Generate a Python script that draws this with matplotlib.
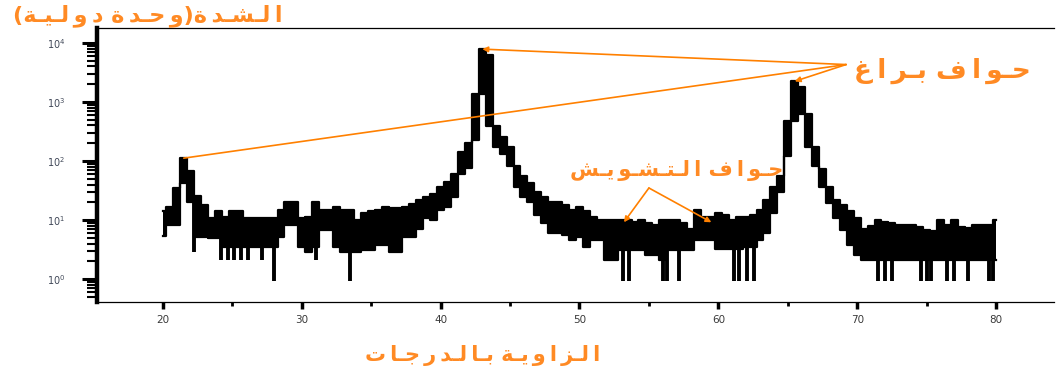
import numpy as np
import matplotlib
matplotlib.use("Agg")
import matplotlib.pyplot as plt
from matplotlib.ticker import LogLocator, MultipleLocator

# XRD scan, 0.5 degree bins: upper and lower envelope of the recorded counts
two_theta = np.arange(20.0, 80.01, 0.5)
counts_hi = [
    14, 17, 35, 112, 67, 26, 18, 11, 14, 11.5,
    14, 14, 11, 11, 11, 11, 11, 15, 20, 20,
    11, 11.5, 20, 15, 15, 17, 15, 15, 10, 13,
    14, 15, 17, 16, 16, 17, 19, 22, 25, 28,
    37, 45, 60, 140, 200, 1380, 7850, 6160, 395, 253,
    174, 82, 55, 42, 30, 25, 20, 20, 18, 15,
    17, 14, 11.5, 10.2, 10.2, 10.2, 10, 10, 9.4, 10,
    9, 8.4, 10, 10, 10, 9, 7, 15, 11.5, 11.5,
    13, 12, 10.2, 11.5, 11.5, 12, 15, 22, 36, 55,
    475, 2240, 1820, 617, 174, 73, 37, 22, 18, 14,
    11, 7, 8, 10, 9.4, 9, 8.4, 8.4, 8.4, 7.7,
    6.9, 6.5, 10, 8.4, 10, 7.7, 7.5, 8.4, 8.4, 8.4,
    10,
]
counts_lo = [
    5.4, 8.4, 8.4, 42, 20, 5.2, 5.2, 5.0, 5.0, 3.5,
    3.5, 3.5, 3.5, 3.5, 3.5, 3.5, 3.5, 5.2, 8.4, 8.4,
    3.5, 2.9, 3.5, 6.9, 6.9, 3.5, 2.9, 2.9, 2.9, 3.1,
    3.1, 3.8, 3.8, 2.9, 2.9, 5.2, 5.2, 7, 11, 10,
    15, 17, 25, 60, 75, 226, 1380, 395, 174, 130,
    82, 37, 25, 20, 12, 9, 6.1, 6.1, 5.5, 4.6,
    5.2, 3.5, 4.6, 4.6, 2.1, 2.1, 3.1, 3.1, 3.1, 3.1,
    2.6, 2.6, 2.1, 3.1, 3.1, 3.1, 3.1, 4.6, 4.6, 4.6,
    3.3, 3.3, 3.3, 3.3, 3.5, 3.5, 4.6, 6.1, 13, 30,
    120, 475, 617, 174, 82, 37, 19.5, 11, 6.9, 3.8,
    2.6, 2.1, 2.1, 2.1, 2.1, 2.1, 2.1, 2.1, 2.1, 2.1,
    2.1, 2.1, 2.1, 2.1, 2.1, 2.1, 2.1, 2.1, 2.1, 2.1,
    2.1,
]
# single low-count channels that drop below the band
dip_theta = [22.2, 24.2, 24.7, 25.1, 25.6, 26.1, 27.1, 28.0, 31.0, 33.5,
             53.1, 53.6, 56.0, 56.3, 57.2, 61.1, 61.5, 62.1, 62.6,
             71.5, 72.0, 72.5, 74.6, 75.0, 75.3, 76.5, 77.0, 78.0, 79.5, 79.8]
dip_counts = [2.9, 2.1, 2.1, 2.1, 2.1, 2.1, 2.1, 0.95, 2.1, 0.95,
              0.95, 0.95, 0.95, 0.95, 0.95, 0.95, 0.95, 0.95, 0.95,
              0.95, 0.95, 0.95, 0.95, 0.95, 0.95, 0.95, 0.95, 0.95, 0.95, 0.95]

# peaks picked out by the annotations
bragg_peaks = [(21.5, 112), (43.0, 7850), (65.5, 2240)]

# Arabic presentation forms (isolated, final, initial, medial)
FORMS = {
    'ا': ('\uFE8D', '\uFE8E', None, None),
    'ب': ('\uFE8F', '\uFE90', '\uFE91', '\uFE92'),
    'ة': ('\uFE93', '\uFE94', None, None),
    'ت': ('\uFE95', '\uFE96', '\uFE97', '\uFE98'),
    'ج': ('\uFE9D', '\uFE9E', '\uFE9F', '\uFEA0'),
    'ح': ('\uFEA1', '\uFEA2', '\uFEA3', '\uFEA4'),
    'د': ('\uFEA9', '\uFEAA', None, None),
    'ر': ('\uFEAD', '\uFEAE', None, None),
    'ز': ('\uFEAF', '\uFEB0', None, None),
    'ش': ('\uFEB5', '\uFEB6', '\uFEB7', '\uFEB8'),
    'غ': ('\uFECD', '\uFECE', '\uFECF', '\uFED0'),
    'ف': ('\uFED1', '\uFED2', '\uFED3', '\uFED4'),
    'ل': ('\uFEDD', '\uFEDE', '\uFEDF', '\uFEE0'),
    'و': ('\uFEED', '\uFEEE', None, None),
    'ي': ('\uFEF1', '\uFEF2', '\uFEF3', '\uFEF4'),
}


def arabic(text, spread=0):
    # matplotlib has no text shaping, so join letters by hand and lay out right-to-left;
    # spread > 0 stretches the word with kashida / thin spaces between letters
    out = []
    for i, ch in enumerate(text):
        if ch not in FORMS:
            out.append(ch)
            continue
        iso, fin, ini, med = FORMS[ch]
        prev = text[i - 1] if i > 0 else ''
        nxt = text[i + 1] if i + 1 < len(text) else ''
        joins_prev = prev in FORMS and FORMS[prev][2] is not None
        joins_next = ini is not None and nxt in FORMS
        if joins_prev and joins_next:
            out.append(med)
        elif joins_prev:
            out.append(fin)
        elif joins_next:
            out.append(ini)
        else:
            out.append(iso)
        if spread and nxt in FORMS:
            out.append('\u0640' * spread if joins_next else '\u2009' * spread)
    return ''.join(reversed(out)).translate(str.maketrans('()', ')('))


plt.rcParams['font.family'] = ['DejaVu Sans']
orange_txt = '#ff8a24'
orange_ln = '#ff8000'

fig = plt.figure(figsize=(10.59, 3.72), dpi=100)
ax = fig.add_axes([0.0916, 0.188, 0.904, 0.737])

hi = np.array(counts_hi)
lo = np.array(counts_lo)
ax.fill_between(two_theta, lo, hi, step='mid', color='black', lw=0)
ax.step(two_theta, hi, where='mid', color='black', lw=1.6)
ax.step(two_theta, lo, where='mid', color='black', lw=1.6)
idx = np.rint((np.array(dip_theta) - two_theta[0]) / 0.5).astype(int)
ax.vlines(dip_theta, dip_counts, lo[idx], color='black', lw=2.8)

ax.set_yscale('log')
ax.set_xlim(15.25, 84.2)
ax.set_ylim(0.41, 17950)

ax.xaxis.set_major_locator(MultipleLocator(10))
ax.xaxis.set_minor_locator(MultipleLocator(5))
ax.yaxis.set_major_locator(LogLocator(base=10, numticks=10))
ax.yaxis.set_minor_locator(LogLocator(base=10, subs=np.arange(2, 10), numticks=20))

ax.spines['right'].set_visible(False)
ax.spines['left'].set_linewidth(3.2)
ax.spines['top'].set_linewidth(0.9)
ax.spines['bottom'].set_linewidth(0.9)
ax.tick_params(axis='y', which='major', direction='out', length=11, width=2.2, pad=12,
               labelsize=7, labelcolor='#404858')
ax.tick_params(axis='y', which='minor', direction='out', length=7, width=1.5)
ax.tick_params(axis='x', which='major', direction='out', length=5, width=2.5, pad=4,
               labelsize=7.5, labelcolor='#3a3a3a')
ax.tick_params(axis='x', which='minor', direction='out', length=3, width=2)

# axis titles
fig.text(0.012, 0.958, arabic('الشدة(وحدة دولية)', spread=1), color=orange_txt,
         fontsize=16, fontweight='bold', ha='left', va='center')
fig.text(0.456, 0.045, arabic('الزاوية بالدرجات', spread=1), color=orange_txt,
         fontsize=15, fontweight='bold', ha='center', va='center')

# Bragg peak labels
ax.text(69.8, 3300, arabic('حواف براغ', spread=1), color=orange_txt, fontsize=19,
        fontweight='bold', ha='left', va='center')
for (tt, cc), head in zip(bragg_peaks, ['-', '-|>', '-|>']):
    ax.annotate('', xy=(tt, cc), xytext=(69.2, 4300),
                arrowprops=dict(arrowstyle=head, color=orange_ln, lw=1.2,
                                mutation_scale=8, shrinkA=0, shrinkB=0))

# noise label
ax.text(57.0, 70, arabic('حواف التشويش', spread=1), color=orange_txt, fontsize=15,
        fontweight='bold', ha='center', va='center')
for tt in (53.2, 59.5):
    ax.annotate('', xy=(tt, 9.2), xytext=(55.0, 35),
                arrowprops=dict(arrowstyle='-|>', color=orange_ln, lw=1.2,
                                mutation_scale=8, shrinkA=0, shrinkB=0))

fig.savefig('out.png', dpi=100)
